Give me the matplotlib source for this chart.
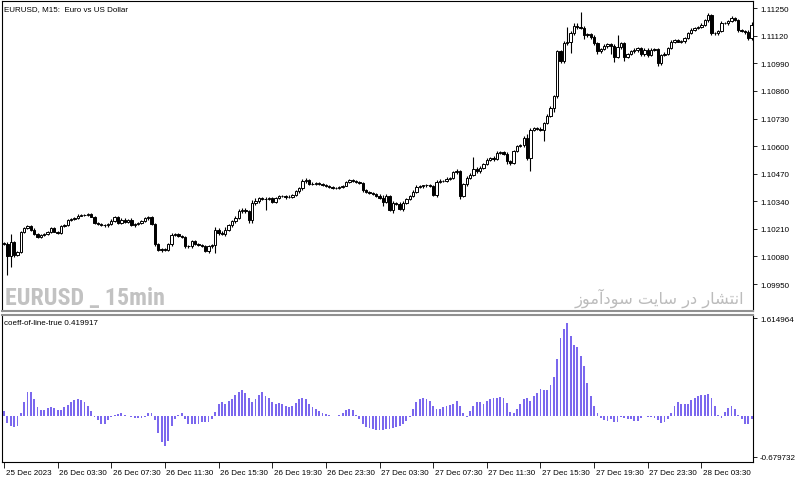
import matplotlib
matplotlib.use("Agg")
import matplotlib.pyplot as plt
import matplotlib.transforms as mtransforms
from matplotlib import font_manager
import numpy as np

# ---------------- data ----------------
first_open = 1.10145
closes = [
    1.10139, 1.10084, 1.10147, 1.10087, 1.10100, 1.10194, 1.10214, 1.10222,
    1.10207, 1.10186, 1.10171, 1.10182, 1.10186, 1.10197, 1.10213, 1.10197,
    1.10191, 1.10222, 1.10229, 1.10254, 1.10257, 1.10262, 1.10273, 1.10276,
    1.10277, 1.10280, 1.10268, 1.10238, 1.10233, 1.10229, 1.10226, 1.10232,
    1.10249, 1.10265, 1.10238, 1.10254, 1.10244, 1.10254, 1.10226, 1.10232,
    1.10238, 1.10249, 1.10260, 1.10265, 1.10233, 1.10139, 1.10111, 1.10116,
    1.10111, 1.10139, 1.10183, 1.10186, 1.10178, 1.10171, 1.10127, 1.10128,
    1.10152, 1.10139, 1.10136, 1.10131, 1.10108, 1.10128, 1.10134, 1.10207,
    1.10191, 1.10185, 1.10207, 1.10226, 1.10246, 1.10262, 1.10292, 1.10301,
    1.10292, 1.10252, 1.10332, 1.10340, 1.10354, 1.10350, 1.10353, 1.10354,
    1.10339, 1.10356, 1.10365, 1.10367, 1.10359, 1.10362, 1.10368, 1.10387,
    1.10401, 1.10434, 1.10442, 1.10420, 1.10423, 1.10425, 1.10420, 1.10417,
    1.10411, 1.10409, 1.10404, 1.10403, 1.10408, 1.10414, 1.10430, 1.10439,
    1.10436, 1.10431, 1.10425, 1.10392, 1.10386, 1.10381, 1.10375, 1.10367,
    1.10357, 1.10339, 1.10364, 1.10299, 1.10332, 1.10329, 1.10304, 1.10333,
    1.10349, 1.10364, 1.10386, 1.10407, 1.10410, 1.10415, 1.10418, 1.10411,
    1.10371, 1.10433, 1.10438, 1.10436, 1.10446, 1.10451, 1.10477, 1.10484,
    1.10367, 1.10422, 1.10451, 1.10466, 1.10493, 1.10481, 1.10498, 1.10514,
    1.10537, 1.10545, 1.10540, 1.10569, 1.10572, 1.10564, 1.10528, 1.10520,
    1.10575, 1.10600, 1.10603, 1.10638, 1.10543, 1.10678, 1.10685, 1.10682,
    1.10678, 1.10710, 1.10741, 1.10779, 1.10835, 1.11047, 1.11003, 1.11087,
    1.11093, 1.11134, 1.11168, 1.11160, 1.11156, 1.11124, 1.11127, 1.11116,
    1.11085, 1.11046, 1.11058, 1.11071, 1.11079, 1.11074, 1.11022, 1.11066,
    1.11085, 1.11022, 1.11035, 1.11046, 1.11054, 1.11061, 1.11033, 1.11055,
    1.11030, 1.11054, 1.11058, 1.10991, 1.11030, 1.11035, 1.11063, 1.11093,
    1.11098, 1.11093, 1.11094, 1.11110, 1.11134, 1.11149, 1.11157, 1.11163,
    1.11173, 1.11195, 1.11220, 1.11132, 1.11134, 1.11142, 1.11181, 1.11179,
    1.11189, 1.11204, 1.11196, 1.11148, 1.11142, 1.11137, 1.11108, 1.11173,
]
# upper / lower wick lengths in points (0.00001)
wick_up = [
    5, 10, 40, 5, 8, 5, 6, 4, 6, 5, 4, 6, 5, 4, 6, 8,
    5, 8, 6, 4, 3, 4, 6, 4, 3, 4, 5, 4, 3, 4, 5, 6,
    8, 6, 5, 6, 5, 4, 6, 5, 4, 5, 6, 5, 4, 5, 4, 5,
    6, 5, 8, 6, 4, 5, 4, 6, 5, 6, 5, 4, 5, 6, 5, 10,
    6, 8, 12, 8, 6, 8, 10, 8, 6, 5, 12, 15, 8, 6, 5, 6,
    5, 6, 5, 4, 5, 6, 5, 8, 6, 10, 8, 5, 6, 4, 5, 4,
    5, 4, 5, 4, 6, 5, 8, 6, 5, 4, 5, 6, 5, 4, 5, 6,
    8, 12, 10, 6, 8, 6, 10, 8, 6, 5, 6, 8, 5, 4, 5, 4,
    5, 6, 5, 4, 8, 5, 6, 8, 5, 6, 10, 8, 55, 10, 8, 6,
    6, 5, 8, 6, 5, 4, 6, 5, 8, 6, 5, 10, 20, 8, 6, 5,
    8, 6, 10, 8, 6, 5, 8, 10, 67, 8, 10, 10, 74, 8, 6, 8,
    6, 8, 6, 10, 8, 8, 6, 60, 8, 6, 5, 6, 8, 6, 8, 6,
    6, 8, 6, 5, 6, 8, 6, 5, 6, 5, 4, 6, 5, 6, 5, 4,
    5, 6, 8, 5, 6, 5, 8, 6, 5, 8, 6, 5, 6, 5, 8, 10,
]
wick_dn = [
    3, 90, 55, 10, 6, 5, 4, 6, 5, 4, 6, 5, 4, 6, 5, 4,
    6, 5, 4, 5, 6, 4, 5, 4, 6, 5, 4, 6, 5, 4, 6, 5,
    5, 6, 5, 4, 6, 5, 4, 6, 5, 4, 5, 6, 5, 8, 6, 8,
    6, 5, 8, 6, 5, 4, 5, 8, 6, 5, 6, 5, 8, 10, 6, 40,
    8, 6, 10, 6, 5, 8, 6, 5, 6, 15, 15, 8, 6, 5, 53, 8,
    6, 5, 6, 5, 6, 5, 6, 5, 6, 8, 6, 5, 4, 6, 5, 4,
    5, 6, 4, 5, 6, 5, 4, 6, 5, 6, 5, 6, 8, 6, 5, 6,
    8, 20, 8, 6, 15, 8, 6, 8, 6, 5, 6, 5, 4, 5, 6, 5,
    8, 10, 5, 6, 5, 6, 5, 6, 15, 8, 10, 6, 8, 6, 8, 6,
    5, 6, 8, 6, 5, 6, 10, 8, 6, 5, 6, 8, 10, 58, 6, 8,
    6, 56, 8, 6, 20, 10, 10, 12, 10, 55, 10, 8, 6, 20, 8, 10,
    8, 10, 8, 6, 10, 40, 25, 8, 6, 20, 8, 6, 8, 10, 8, 6,
    8, 6, 8, 15, 10, 6, 5, 6, 5, 4, 5, 6, 5, 4, 5, 6,
    5, 6, 8, 8, 6, 8, 6, 5, 8, 6, 5, 10, 6, 8, 10, 10,
]
coeff = [
    0.08, -0.12, -0.17, -0.19, -0.17, 0.05, 0.23, 0.39, 0.40, 0.27,
    0.14, 0.09, 0.09, 0.13, 0.14, 0.13, 0.10, 0.10, 0.14, 0.18,
    0.23, 0.26, 0.27, 0.26, 0.23, 0.17, 0.08, -0.02, -0.07, -0.13,
    -0.13, -0.07, -0.02, 0.02, 0.03, 0.04, 0.02, -0.01, -0.02, -0.03,
    -0.04, -0.04, -0.02, 0.04, 0.04, -0.07, -0.28, -0.43, -0.50, -0.41,
    -0.17, -0.05, 0.02, 0.04, -0.05, -0.13, -0.14, -0.13, -0.13, -0.10,
    -0.10, -0.10, -0.05, 0.07, 0.19, 0.22, 0.20, 0.24, 0.27, 0.35,
    0.40, 0.43, 0.38, 0.30, 0.23, 0.27, 0.35, 0.40, 0.33, 0.30,
    0.23, 0.20, 0.21, 0.19, 0.16, 0.15, 0.17, 0.21, 0.27, 0.30,
    0.27, 0.20, 0.15, 0.12, 0.08, 0.05, 0.03, 0.01, -0.01, 0.00,
    0.01, 0.05, 0.09, 0.11, 0.10, 0.02, -0.06, -0.14, -0.18, -0.20,
    -0.22, -0.23, -0.23, -0.23, -0.22, -0.21, -0.20, -0.18, -0.17, -0.14,
    -0.09, -0.02, 0.12, 0.23, 0.28, 0.30, 0.27, 0.24, 0.16, 0.11,
    0.12, 0.14, 0.17, 0.18, 0.19, 0.25, 0.16, 0.04, -0.02, 0.08,
    0.17, 0.22, 0.23, 0.19, 0.25, 0.27, 0.29, 0.29, 0.31, 0.29,
    0.21, 0.07, 0.05, 0.11, 0.19, 0.28, 0.30, 0.24, 0.32, 0.38,
    0.44, 0.43, 0.43, 0.51, 0.64, 0.94, 1.29, 1.43, 1.53, 1.32,
    1.17, 1.13, 0.98, 0.82, 0.55, 0.33, 0.17, 0.04, -0.04, -0.07,
    -0.09, -0.05, -0.10, -0.11, -0.02, -0.03, -0.05, -0.06, -0.08, -0.08,
    -0.03, -0.01, -0.02, -0.02, -0.04, -0.07, -0.12, -0.11, -0.05, 0.05,
    0.17, 0.23, 0.20, 0.19, 0.20, 0.26, 0.30, 0.32, 0.35, 0.35,
    0.36, 0.30, 0.17, 0.02, -0.04, 0.06, 0.13, 0.16, 0.11, 0.02,
    -0.06, -0.13, -0.14, -0.05,
]
tick_labels = ["25 Dec 2023", "26 Dec 03:30", "26 Dec 07:30", "26 Dec 11:30",
               "26 Dec 15:30", "26 Dec 19:30", "26 Dec 23:30", "27 Dec 03:30",
               "27 Dec 07:30", "27 Dec 11:30", "27 Dec 15:30", "27 Dec 19:30",
               "27 Dec 23:30", "28 Dec 03:30"]
bars_per_label = 16
price_ticks = [1.11250, 1.11120, 1.10990, 1.10860, 1.10730, 1.10600,
               1.10470, 1.10340, 1.10210, 1.10080, 1.09950]
coeff_ticks = [1.614964, -0.679732]
title = "EURUSD, M15:  Euro vs US Dollar"
ind_label = "coeff-of-line-true 0.419917"
watermark = "EURUSD _ 15min"

SMALL = ["Liberation Sans", "DejaVu Sans"]
FS = 5.8


def first_font(cands, weight="normal"):
    for f in cands:
        try:
            font_manager.findfont(font_manager.FontProperties(family=f, weight=weight),
                                  fallback_to_default=False)
            return f
        except Exception:
            pass
    return "DejaVu Sans"


# ---------------- figure ----------------
W, H = 800, 481
fig = plt.figure(figsize=(W / 100, H / 100), dpi=100)
fig.patch.set_facecolor("white")


def rect(l, t, r, b):
    return [l / W, 1 - b / H, (r - l) / W, (b - t) / H]


ax1 = fig.add_axes(rect(2, 2, 753, 312))
ax2 = fig.add_axes(rect(2, 316, 753, 463), sharex=ax1)

n = len(closes)
x = np.arange(n)
c = np.array(closes)
o = np.array([first_open] + closes[:-1])
hi = np.maximum(o, c) + np.array(wick_up[:n]) * 1e-5
lo = np.minimum(o, c) - np.array(wick_dn[:n]) * 1e-5

ax1.vlines(x, lo, hi, color="black", lw=0.8, zorder=2)
bull = c >= o
bottoms = np.minimum(o, c)
heights = np.maximum(np.abs(c - o), 0.000004)
ax1.bar(x[bull], heights[bull], bottom=bottoms[bull], width=0.7,
        facecolor="white", edgecolor="black", linewidth=0.7, zorder=3)
ax1.bar(x[~bull], heights[~bull], bottom=bottoms[~bull], width=0.7,
        facecolor="black", edgecolor="black", linewidth=0.7, zorder=3)

ax1.set_xlim(-0.6, 223.4)
ax1.set_ylim(1.09823, 1.11284)
ax1.yaxis.tick_right()
ax1.set_yticks(price_ticks)
ax1.set_yticklabels([f"{v:.5f}" for v in price_ticks], family=SMALL)
ax1.tick_params(axis="y", direction="out", length=3, width=0.6, labelsize=FS,
                pad=2, colors="black")
ax1.tick_params(axis="x", bottom=False, labelbottom=False)

# indicator histogram
ax2.bar(np.arange(len(coeff)), coeff, width=0.55, color="#7b68ee", zorder=2)
ax2.set_ylim(-0.7623, 1.6645)
ax2.yaxis.tick_right()
ax2.set_yticks(coeff_ticks)
ax2.set_yticklabels([f"{v:.6f}" for v in coeff_ticks], family=SMALL)
ax2.tick_params(axis="y", direction="out", length=3, width=0.6, labelsize=FS,
                pad=2)
ax2.set_xticks(np.arange(len(tick_labels)) * bars_per_label)
ax2.set_xticklabels(tick_labels, family=SMALL)
ax2.tick_params(axis="x", direction="out", length=4, width=0.6, labelsize=FS,
                pad=0.8)
offset = mtransforms.ScaledTranslation(1.5 / 100, 0, fig.dpi_scale_trans)
for lab in ax2.get_xticklabels():
    lab.set_ha("left")
    lab.set_transform(lab.get_transform() + offset)

for ax in (ax1, ax2):
    for s in ax.spines.values():
        s.set_linewidth(0.8)
        s.set_color("black")
ax1.spines["bottom"].set_color("#909090")
ax1.spines["bottom"].set_linewidth(1.5)
ax2.spines["top"].set_color("#909090")
ax2.spines["top"].set_linewidth(1.5)

fig.text(4 / W, 1 - 11 / H, title, fontsize=FS, ha="left", va="baseline",
         family=SMALL)
fig.text(4 / W, 1 - 325 / H, ind_label, fontsize=FS, ha="left", va="baseline",
         family=SMALL)

wm_font = first_font(["Liberation Sans Narrow", "Roboto Condensed",
                      "DejaVu Sans Condensed", "Liberation Sans"], weight="bold")
wm = fig.text(5 / W, 1 - 305 / H, watermark, fontsize=17, ha="left",
              va="baseline", color="#c2c2c2", weight="bold", family=wm_font)

# Persian text "انتشار در سایت سودآموز" given in shaped presentation forms, visual order
persian = ("\uFEAF\uFEEE\uFEE3\uFE81\uFEA9\uFEEE\uFEB3 "
           "\uFE96\uFBFE\uFE8E\uFEB3 "
           "\uFEAD\uFEA9 "
           "\uFEAD\uFE8E\uFEB8\uFE98\uFEE7\uFE8D")
pt = fig.text(744 / W, 1 - 304 / H, persian, fontsize=13, ha="right",
              va="baseline", color="#bcbcbc", family=["DejaVu Sans"])

# fit watermark texts to the widths seen in the reference
fig.canvas.draw()
r = fig.canvas.get_renderer()
for t, target in ((wm, 160.0), (pt, 170.0)):
    w = t.get_window_extent(r).width
    if w > 0:
        t.set_fontsize(t.get_fontsize() * target / w)

fig.savefig("out.png", dpi=100, facecolor="white")
